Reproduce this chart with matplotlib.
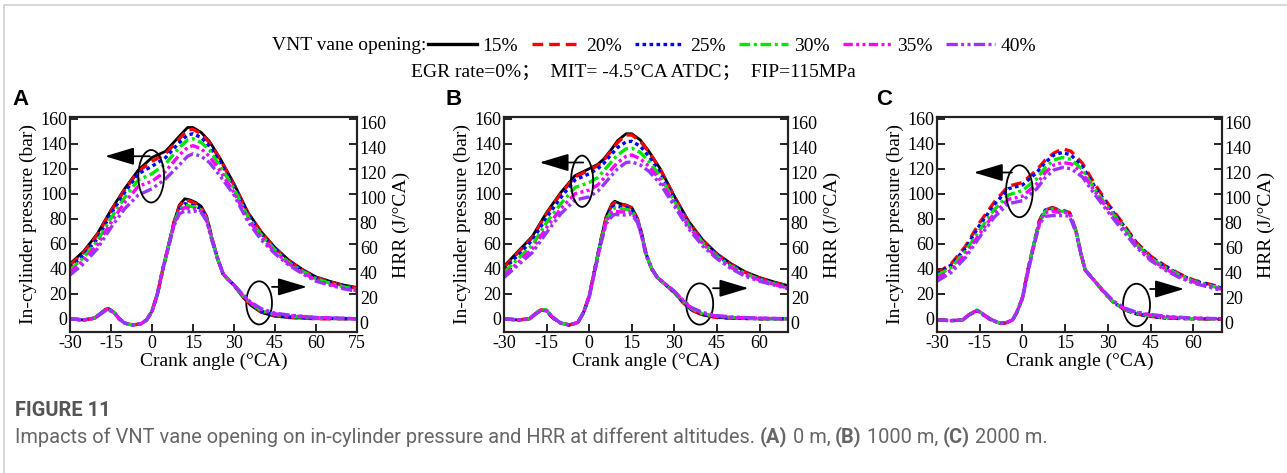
import matplotlib
matplotlib.use('Agg')
import matplotlib.pyplot as plt
import matplotlib.transforms as mtransforms
from matplotlib.patches import Ellipse, Rectangle
from matplotlib.lines import Line2D

plt.rcParams['font.family'] = ['Liberation Serif', 'Noto Sans CJK SC']
plt.rcParams['axes.unicode_minus'] = False

openings = ['15%', '20%', '25%', '30%', '35%', '40%']

# ---- panel A (0 m) ----
pa_x = [-30, -25, -20, -15, -10, -5, 0, 5, 10, 13, 15, 18, 21, 25, 30, 35, 40, 45, 50, 55, 60, 65, 70, 75]
pa_15 = [44, 54, 68, 87, 104, 119, 129, 134, 146, 153, 153, 149, 142, 128, 108, 85.5, 69.5, 57, 47, 39.5, 33.5, 30, 27, 25]
pa_20 = [43, 53, 67, 86, 103, 118, 126, 132, 144, 151, 151.5, 148, 141, 127, 107, 85, 69, 56.5, 46.5, 39, 33, 29.5, 26.5, 24.5]
pa_25 = [41, 51, 64, 84, 101, 116, 122, 129, 141, 147, 148, 145, 138, 125, 106, 84, 68, 56, 46, 38.5, 32.5, 29, 26, 24]
pa_30 = [39, 49, 62, 80.5, 97, 111, 116, 124, 137, 143, 144, 141, 135, 122, 104, 82, 67, 55, 45, 38, 32, 28.5, 25.5, 23.5]
pa_35 = [37, 47, 59, 77, 93, 106, 110, 118, 131, 137, 138.5, 136, 130, 118, 101, 80, 65, 53.5, 44, 37, 31, 27.5, 24.5, 22.5]
pa_40 = [35, 44, 56, 73, 88, 99, 104, 112, 123, 130, 132, 130, 125, 114, 99, 78, 63, 52, 43, 36, 30, 27, 24, 22]

ha_x = [-30, -25, -21, -19, -17, -16, -14, -12, -10, -7, -4, -2, 0, 2, 4, 6, 8, 10, 12, 14,
        16, 18, 20, 22, 24, 26, 28, 30, 33, 36, 40, 45, 50, 60, 75]
ha_15 = [0, -1, 0.5, 4, 7.5, 8, 5.5, 0, -3.5, -5, -4, -1, 6, 20, 40, 58, 77, 91, 96, 95,
         93, 90, 82, 64, 48, 36, 31, 27, 18, 11, 5, 2, 1, 0, 0]
ha_20 = [0, -1, 0.5, 4, 7.5, 8, 5.5, 0, -3.5, -5, -4, -1, 6, 20, 40, 58, 77, 90, 95, 94,
         92, 89, 81, 64, 48, 36, 31, 27, 18, 11.5, 5.5, 2.5, 1, 0, 0]
ha_25 = [0, -1, 0.5, 4, 7, 8, 5.5, 0, -3.5, -5, -4, -1, 6, 20, 40, 58, 76, 88, 92, 91,
         90, 88, 80, 63, 48, 36, 31, 27, 18.5, 12, 6, 3, 1.5, 0.5, 0]
ha_30 = [0, -1, 0.5, 4, 7, 7.5, 5, 0, -3.5, -5, -4, -1, 6, 20, 40, 58, 76, 87, 91, 90,
         89, 87, 80, 63, 48, 36, 31, 27, 19, 12.5, 6.5, 3.5, 2, 0.5, 0]
ha_35 = [0, -1, 0.5, 3.5, 7, 7.5, 5, 0, -3.5, -5, -4, -1, 6, 20, 40, 58, 75, 86, 89, 88,
         88, 86, 79, 63, 48, 36, 31, 27, 19.5, 13, 7.5, 4, 2.5, 1, 0]
ha_40 = [0, -1, 0.5, 3.5, 6.5, 7, 5, 0, -3.5, -5, -4, -1, 6, 20, 40, 57, 74, 84, 86, 85.5,
         86, 85, 78, 62, 48, 36, 31, 27, 20, 13.5, 8, 4.5, 3, 1, 0]

# ---- panel B (1000 m) ----
pb_x = [-30, -25, -20, -15, -10, -5, 0, 3, 5, 8, 10, 13, 15, 18, 21, 25, 30, 35, 40, 45, 50, 55, 60, 65, 70]
pb_15 = [42, 54, 66, 85, 101, 114.5, 120, 123.5, 127.5, 136, 142.5, 148, 148, 143, 134, 120, 98, 78, 63, 52, 44, 37.5, 33, 29.5, 26.5]
pb_20 = [41, 53, 65, 84, 100, 113.5, 119, 122.5, 126.5, 135, 141, 147, 147, 142, 133.5, 119.5, 97.5, 77.5, 62.5, 51.5, 43.5, 37, 32.5, 29, 26]
pb_25 = [39.5, 51, 63, 81, 97, 111, 116, 120, 124, 132, 137, 141.5, 142, 138, 130, 117, 96, 76.5, 62, 51, 43, 36.5, 32, 28.5, 25.5]
pb_30 = [37, 48, 59, 77, 92, 105, 109, 113, 118, 126, 131, 136, 136.5, 133, 126, 114, 94, 75, 61, 50, 42, 36, 31.5, 28, 25]
pb_35 = [35, 45, 56, 73, 88, 100, 103, 107, 112, 120, 125, 130, 131, 128, 122, 111, 92, 74, 60, 49, 41, 35, 31, 27.5, 24.5]
pb_40 = [33, 43, 53, 69, 84, 95, 97.5, 102, 107, 115, 120, 125, 125.5, 123, 118, 108, 90, 72, 58, 48, 40, 34, 30, 27, 24]

hb_x = [-30, -25, -21, -19, -17, -15, -13, -10, -7, -4, -2, 0, 2, 4, 6, 8, 9, 11, 13, 15,
        17, 18.5, 20, 22, 24, 27, 30, 33, 36, 40, 45, 50, 60, 70]
hb_15 = [0, -1, 0, 4, 7, 6.5, 1, -3.5, -5, -3, 5, 18, 40, 62, 82, 92, 94, 92, 91, 89,
         80, 68, 52, 40, 33, 27, 21, 13, 7, 3, 1, 0.5, 0, 0]
hb_20 = [0, -1, 0, 4, 7, 6.5, 1, -3.5, -5, -3, 5, 18, 40, 62, 81, 91, 93, 91.5, 90.5, 88.5,
         80, 68, 52, 40, 33, 27, 21, 13, 7, 3, 1, 0.5, 0, 0]
hb_25 = [0, -1, 0, 4, 7, 6.5, 1, -3.5, -5, -3, 5, 18, 40, 61, 80, 89, 90, 89.5, 89, 87.5,
         79, 67, 52, 40, 33, 27, 21, 13.5, 7.5, 3.5, 1.5, 0.5, 0, 0]
hb_30 = [0, -1, 0, 4, 7.5, 7, 1.5, -3.5, -5, -3, 5, 18, 40, 61, 79, 87, 88.5, 88, 87.5, 86.5,
         78.5, 67, 52, 40, 33, 27, 21.5, 14, 8, 4, 2, 1, 0, 0]
hb_35 = [0, -1, 0, 3.5, 7, 6.5, 1.5, -3.5, -5, -3, 5, 18, 39, 60, 78, 85, 86, 85.5, 85.5, 85,
         78, 66, 51, 40, 33, 27.5, 22, 14.5, 8.5, 4.5, 2, 1, 0.5, 0]
hb_40 = [0, -1, 0, 3.5, 6.5, 6.5, 1.5, -3.5, -5, -3, 5, 17, 38, 59, 76, 82, 83.5, 83, 83, 83.5,
         77, 66, 51, 40, 33, 27.5, 22, 15, 9, 5, 2.5, 1.5, 0.5, 0]

# ---- panel C (2000 m), no 15% curve ----
pc_x = [-30, -25, -20, -15, -10, -5, 0, 5, 8, 11, 14, 17, 21, 25, 30, 35, 40, 45, 50, 55, 60, 65, 70]
pc_20 = [36.5, 44, 58, 77, 93, 106, 109, 119, 127, 132.5, 136, 134, 124.5, 109, 92, 77, 61, 50, 42.5, 36, 31, 28, 25]
pc_25 = [36, 43, 56.5, 75, 91, 104, 107, 117, 125, 131, 133, 131, 122, 107, 90.5, 76, 60.5, 49.5, 42, 35.5, 30.5, 27.5, 24.5]
pc_30 = [34.5, 41, 54, 71, 87, 99, 102.5, 112, 121, 127, 129, 127.5, 119.5, 105, 89, 74.5, 59.5, 48.5, 41, 35, 30, 27, 24]
pc_35 = [32.5, 39, 51.5, 68, 84, 95.5, 98, 108, 117, 123, 125, 124, 116.5, 103, 87.5, 73, 58.5, 47.5, 40, 34, 29.5, 26.5, 23.5]
pc_40 = [30, 37, 49, 65.5, 81, 92, 94.5, 104, 113, 119, 121, 120, 113.5, 100.5, 85.5, 71, 57, 46.5, 39, 33, 28.5, 25.5, 22.5]

hc_x = [-30, -25, -21, -19, -16, -14, -11, -8, -6, -3.5, -2, 0, 2, 4, 6, 8, 10.5, 13, 15, 16.5,
        18.8, 20.5, 22, 25, 29, 32, 36, 39, 43, 50, 60, 70]
hc_20 = [-1, -1.5, -1, 3, 6.5, 3.5, -1, -3.5, -3.5, -1, 5, 17, 40, 60, 79, 87, 89, 87, 86, 85,
         70, 52, 39, 31, 20, 13, 7, 4.5, 2.5, 0.5, 0, -0.5]
hc_25 = [-1, -1.5, -1, 3, 6.5, 3.5, -1, -3.5, -3.5, -1, 5, 17, 40, 60, 79, 87, 88.5, 86.5, 86, 85,
         70, 52, 39, 31, 20, 13, 7, 4.5, 2.5, 0.5, 0, 0]
hc_30 = [-1, -1.5, -1, 3, 7, 4, -1, -3.5, -3.5, -1, 5, 17, 40, 60, 78, 86, 88, 86, 85.5, 84.5,
         70, 52, 39, 31, 20, 13, 7.5, 5, 3, 1, 0, 0]
hc_35 = [-1, -1.5, -1, 3, 7, 4, -1, -3.5, -3.5, -1, 5, 17, 39, 59, 77, 85, 86, 85, 85, 84.5,
         70, 52, 39, 31, 20.5, 13.5, 8, 5.5, 3.5, 1.5, 0.5, 0]
hc_40 = [-1, -1.5, -1, 2.5, 6.5, 4, -0.5, -3.5, -3.5, -1, 5, 16, 38, 58, 76, 82, 82.5, 82.5, 82.5, 82,
         69, 52, 39, 31, 21, 14, 8.5, 6, 4, 2, 0.5, 0]

panels = [
    ('A', pa_x, [pa_15, pa_20, pa_25, pa_30, pa_35, pa_40],
     ha_x, [ha_15, ha_20, ha_25, ha_30, ha_35, ha_40], 75, [-30, -15, 0, 15, 30, 45, 60, 75]),
    ('B', pb_x, [pb_15, pb_20, pb_25, pb_30, pb_35, pb_40],
     hb_x, [hb_15, hb_20, hb_25, hb_30, hb_35, hb_40], 70, [-30, -15, 0, 15, 30, 45, 60]),
    ('C', pc_x, [None, pc_20, pc_25, pc_30, pc_35, pc_40],
     hc_x, [None, hc_20, hc_25, hc_30, hc_35, hc_40], 70, [-30, -15, 0, 15, 30, 45, 60]),
]

colors = ['#000000', '#ff0000', '#0000ff', '#00e600', '#ff00ff', '#9933ff']
dashes = [None, (3.2, 1.8), (1.1, 1.0), (3.2, 1.1, 0.9, 1.1), (2.8, 1.0, 0.9, 1.0, 0.9, 1.0),
          (3.4, 1.0, 0.9, 1.0, 0.9, 1.0)]

# ellipse (cx, cy, w, h) + arrow (x0, x1, y) -- upper one for pressure, lower one for HRR
notes = [
    [((-0.3, 114, 9.4, 42), (-0.8, -17.2, 130)), ((39.2, 12.7, 9.4, 34.5), (43.9, 56.7, 25.5))],
    [((-2.5, 110, 7.8, 41), (-2.1, -17.5, 125)), ((38.9, 11.8, 9.5, 33), (43.6, 56.1, 24.4))],
    [((-1.1, 102, 9.4, 41.6), (-3.7, -17.1, 117)), ((40, 11, 9.5, 34), (44.8, 56.7, 23.8))],
]

W, H = 1287, 473
fig = plt.figure(figsize=(W / 100, H / 100), dpi=100)

# light frame around figure
fig.patches.append(Rectangle((4 / W, -0.5), 2, 1.5 - 5 / H, transform=fig.transFigure,
                             fill=False, edgecolor='#cfcfcf', lw=1.2))

lefts = [70, 504, 937]
widths = [287, 284, 285]
ylo, yhi = -10.6, 161.4
label_x = [12, 445, 876]

for i, (letter, px, pres, hx, hrr, xmax, xt) in enumerate(panels):
    ax = fig.add_axes([lefts[i] / W, (H - 332) / H, widths[i] / W, 215 / H])
    ax2 = ax.twinx()
    for k in range(6):
        if pres[k] is None:
            continue
        kw = dict(color=colors[k], lw=2.4 if k else 2.0)
        l1, = ax.plot(px, pres[k], **kw)
        l2, = ax2.plot(hx, hrr[k], **kw)
        if dashes[k] is not None:
            l1.set_dashes(dashes[k])
            l2.set_dashes(dashes[k])
    for a in (ax, ax2):
        a.set_ylim(ylo, yhi)
        a.set_yticks(range(0, 161, 20))
        a.set_xlim(-30, xmax)
        a.tick_params(direction='in', length=6, width=1.2, labelsize=13, pad=2)
        for s in a.spines.values():
            s.set_linewidth(1.5)
            s.set_color('#222222')
    ax.set_xticks(xt)
    ax.set_xlabel('Crank angle (°CA)', fontsize=14, labelpad=1)
    ax.set_ylabel('In-cylinder pressure (bar)', fontsize=14, labelpad=2)
    ax2.set_ylabel('HRR (J/°CA)', fontsize=14, labelpad=4)
    off = mtransforms.ScaledTranslation(0, -3 / 72, fig.dpi_scale_trans)
    for lbl in ax2.get_yticklabels():
        lbl.set_transform(lbl.get_transform() + off)

    for (cx, cy, ew, eh), (x0, x1, ya) in notes[i]:
        ax.add_patch(Ellipse((cx, cy), ew, eh, fill=False, edgecolor='black', lw=1.3, zorder=5))
        ax.annotate('', xy=(x1, ya), xytext=(x0, ya),
                    arrowprops=dict(arrowstyle='-|>,head_length=1.5,head_width=0.45',
                                    color='black', lw=1.3, mutation_scale=12, shrinkA=0, shrinkB=0))

    fig.text(label_x[i] / W, 1 - 99 / H, letter, fontsize=16, fontweight='bold',
             family='Liberation Sans', va='center', ha='left')

# legend row
handles = []
for k in range(6):
    h = Line2D([], [], color=colors[k], lw=2.4)
    if dashes[k] is not None:
        h.set_dashes(dashes[k])
    handles.append(h)
fig.text(426 / W, 1 - 46 / H, 'VNT vane opening:', fontsize=14, ha='right', va='center')
fig.legend(handles, openings, loc='center left', bbox_to_anchor=(428 / W, 1 - 46 / H),
           ncol=6, frameon=False, fontsize=14, handlelength=2.5, handletextpad=0.3,
           columnspacing=0.7, borderpad=0, borderaxespad=0)
fig.text(633 / W, 1 - 72 / H, 'EGR rate=0%；  MIT= -4.5°CA ATDC；  FIP=115MPa',
         fontsize=14, ha='center', va='center')

# caption, sized so that the sentence spans the same width as in the source
cap_font = ['Liberation Sans Narrow', 'Roboto', 'DejaVu Sans']
renderer = fig.canvas.get_renderer()
pieces = [('Impacts of VNT vane opening on in-cylinder pressure and HRR at different altitudes. ', 'normal'),
          ('(A)', 'bold'), (' 0 m, ', 'normal'), ('(B)', 'bold'), (' 1000 m, ', 'normal'),
          ('(C)', 'bold'), (' 2000 m.', 'normal')]
probe = 0
for txt, wt in pieces:
    t = fig.text(0, 0, txt, fontsize=12, family=cap_font, fontweight=wt)
    probe += t.get_window_extent(renderer).width
    t.remove()
cap_fs = min(16, 12 * 1030 / probe)

fig.text(15 / W, 1 - 411 / H, 'FIGURE 11', fontsize=cap_fs, color='#555555',
         family=cap_font, fontweight='bold', va='center')
xpos = 15
for txt, wt in pieces:
    t = fig.text(xpos / W, 1 - 437 / H, txt, fontsize=cap_fs, color='#666666',
                 family=cap_font, fontweight=wt, va='center')
    xpos += t.get_window_extent(renderer).width

fig.savefig('out.png', dpi=100)
